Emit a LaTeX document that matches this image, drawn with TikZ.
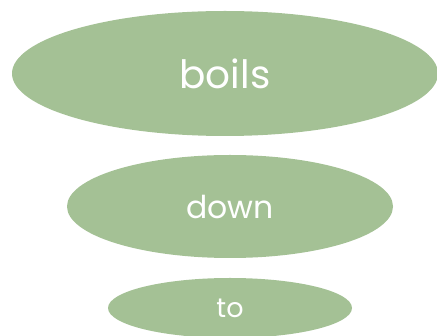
\documentclass[tikz,border=0pt]{standalone}
\usepackage{fontspec}
\setmainfont{Poppins}
\usetikzlibrary{shapes.geometric}
\definecolor{leaf}{HTML}{A4C195}
\tikzset{
  blob/.style={ellipse, fill=leaf, draw=none, inner sep=0pt, text=white, anchor=center},
}
\begin{document}
\begin{tikzpicture}[x=1pt,y=1pt]
\useasboundingbox (0,0) rectangle (437,-336);
\node[blob, minimum width=426pt, minimum height=125pt, font=\fontsize{39}{46}\selectfont] (boils) at (225,-73.5) {boils};
\node[blob, minimum width=326pt, minimum height=103pt, font=\fontsize{31.5}{38}\selectfont] (down) at (230,-206.5) {down};
\node[blob, minimum width=244pt, minimum height=60pt, font=\fontsize{27}{32}\selectfont] (to) at (230,-308) {to};
\end{tikzpicture}
\end{document}
